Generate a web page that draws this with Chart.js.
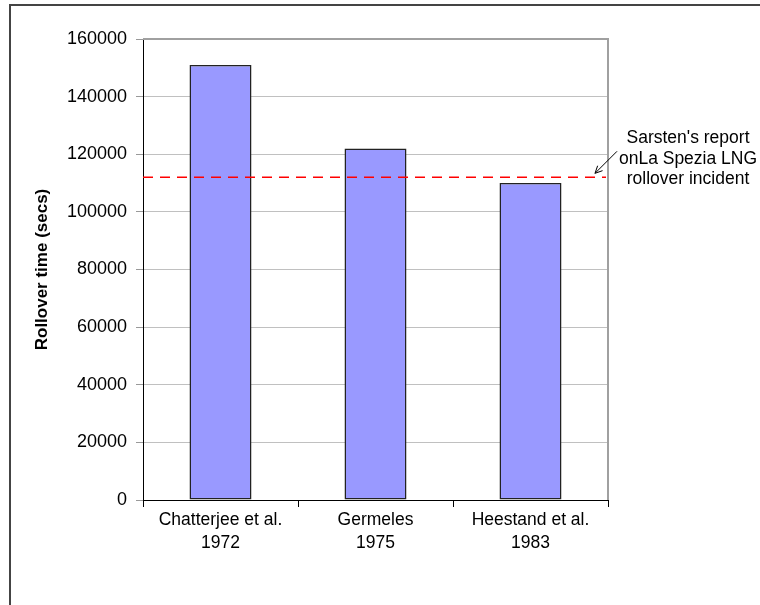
<!DOCTYPE html>
<html>
<head>
<meta charset="utf-8">
<script src="https://cdn.jsdelivr.net/npm/chart.js@4"></script>
<style>
  body { margin: 0; background: #fff; }
  #rolloverChart { display: block; }
</style>
</head>
<body>
<canvas id="rolloverChart" width="760" height="605"></canvas>
<script>
// Rollover time predictions from the three models
let studyNames = [["Chatterjee et al.", "1972"], ["Germeles", "1975"], ["Heestand et al.", "1983"]];
let rolloverSecs = [151000, 122000, 110000];
let yTicks = [0, 20000, 40000, 60000, 80000, 100000, 120000, 140000, 160000];

// Observed value from the La Spezia incident report
let laSpeziaSecs = 112000;
let noteLines = ["Sarsten's report", "onLa Spezia LNG", "rollover incident"];

const FONT = "'Liberation Sans', Arial, sans-serif";

// outer frame, plot border, reference line and its note
const extras = {
    id: 'extras',
    beforeDraw(chart) {
        let ctx = chart.ctx;
        ctx.save();
        ctx.strokeStyle = '#444';
        ctx.lineWidth = 2;
        ctx.beginPath();
        ctx.moveTo(10, 605);
        ctx.lineTo(10, 5);
        ctx.lineTo(760, 5);
        ctx.stroke();
        ctx.restore();
    },
    afterDatasetsDraw(chart) {
        let ctx = chart.ctx;
        let area = chart.chartArea;
        let y = chart.scales.y.getPixelForValue(laSpeziaSecs);

        ctx.save();
        // top and right edges of the plot area
        ctx.strokeStyle = '#a0a0a0';
        ctx.lineWidth = 2;
        ctx.beginPath();
        ctx.moveTo(area.left, area.top);
        ctx.lineTo(area.right, area.top);
        ctx.lineTo(area.right, area.bottom);
        ctx.stroke();

        // dashed reference line
        ctx.strokeStyle = '#ff0000';
        ctx.lineWidth = 1.5;
        ctx.setLineDash([10, 7]);
        ctx.beginPath();
        ctx.moveTo(area.left, y);
        ctx.lineTo(area.right - 2, y);
        ctx.stroke();
        ctx.setLineDash([]);

        // arrow pointing at the line
        let x0 = area.right + 9, y0 = y - 26;
        let x1 = area.right - 13, y1 = y - 4;
        ctx.strokeStyle = '#000';
        ctx.lineWidth = 1;
        ctx.beginPath();
        ctx.moveTo(x0, y0);
        ctx.lineTo(x1, y1);
        let ang = Math.atan2(y1 - y0, x1 - x0);
        ctx.moveTo(x1, y1);
        ctx.lineTo(x1 - 8 * Math.cos(ang - 0.45), y1 - 8 * Math.sin(ang - 0.45));
        ctx.moveTo(x1, y1);
        ctx.lineTo(x1 - 8 * Math.cos(ang + 0.45), y1 - 8 * Math.sin(ang + 0.45));
        ctx.stroke();

        // note text
        ctx.fillStyle = '#000';
        ctx.font = '17.5px ' + FONT;
        ctx.textAlign = 'center';
        ctx.textBaseline = 'middle';
        noteLines.forEach((line, i) => {
            ctx.fillText(line, area.right + 80, y - 39 + i * 20.5);
        });
        ctx.restore();
    }
};

let ctx = document.getElementById('rolloverChart').getContext('2d');
let rolloverChart = new Chart(ctx, {
    type: 'bar',
    data: {
        labels: studyNames,
        datasets: [{
            label: 'Rollover time (secs)',
            data: rolloverSecs,
            backgroundColor: '#9999ff',
            borderColor: '#222',
            borderWidth: 1.5,
            borderSkipped: false,
            barPercentage: 0.4,
            categoryPercentage: 1
        }]
    },
    options: {
        responsive: false,
        animation: false,
        layout: { padding: { top: 39, right: 152, left: 0, bottom: 0 } },
        plugins: {
            legend: { display: false },
            tooltip: { enabled: false }
        },
        scales: {
            x: {
                offset: true,
                grid: {
                    offset: true,
                    drawOnChartArea: false,
                    drawTicks: true,
                    tickLength: 7,
                    tickColor: '#000'
                },
                border: { color: '#000', width: 1 },
                ticks: {
                    color: '#000',
                    padding: 2,
                    maxRotation: 0,
                    font: { family: FONT, size: 17.5, lineHeight: 1.3 }
                },
                afterFit(scale) { scale.height = 105; }
            },
            y: {
                min: 0,
                max: 160000,
                afterBuildTicks(scale) {
                    scale.ticks = yTicks.map(v => ({ value: v }));
                },
                grid: {
                    color: '#c0c0c0',
                    tickColor: '#999',
                    tickLength: 7
                },
                border: { color: '#000', width: 1 },
                ticks: {
                    color: '#000',
                    padding: 9,
                    font: { family: FONT, size: 18 },
                    callback: v => String(v)
                },
                title: {
                    display: true,
                    text: 'Rollover time (secs)',
                    color: '#000',
                    padding: { top: 32, bottom: 0 },
                    font: { family: FONT, size: 17, weight: 'bold' }
                },
                afterFit(scale) { scale.width = 143; }
            }
        }
    },
    plugins: [extras]
});
</script>
</body>
</html>
